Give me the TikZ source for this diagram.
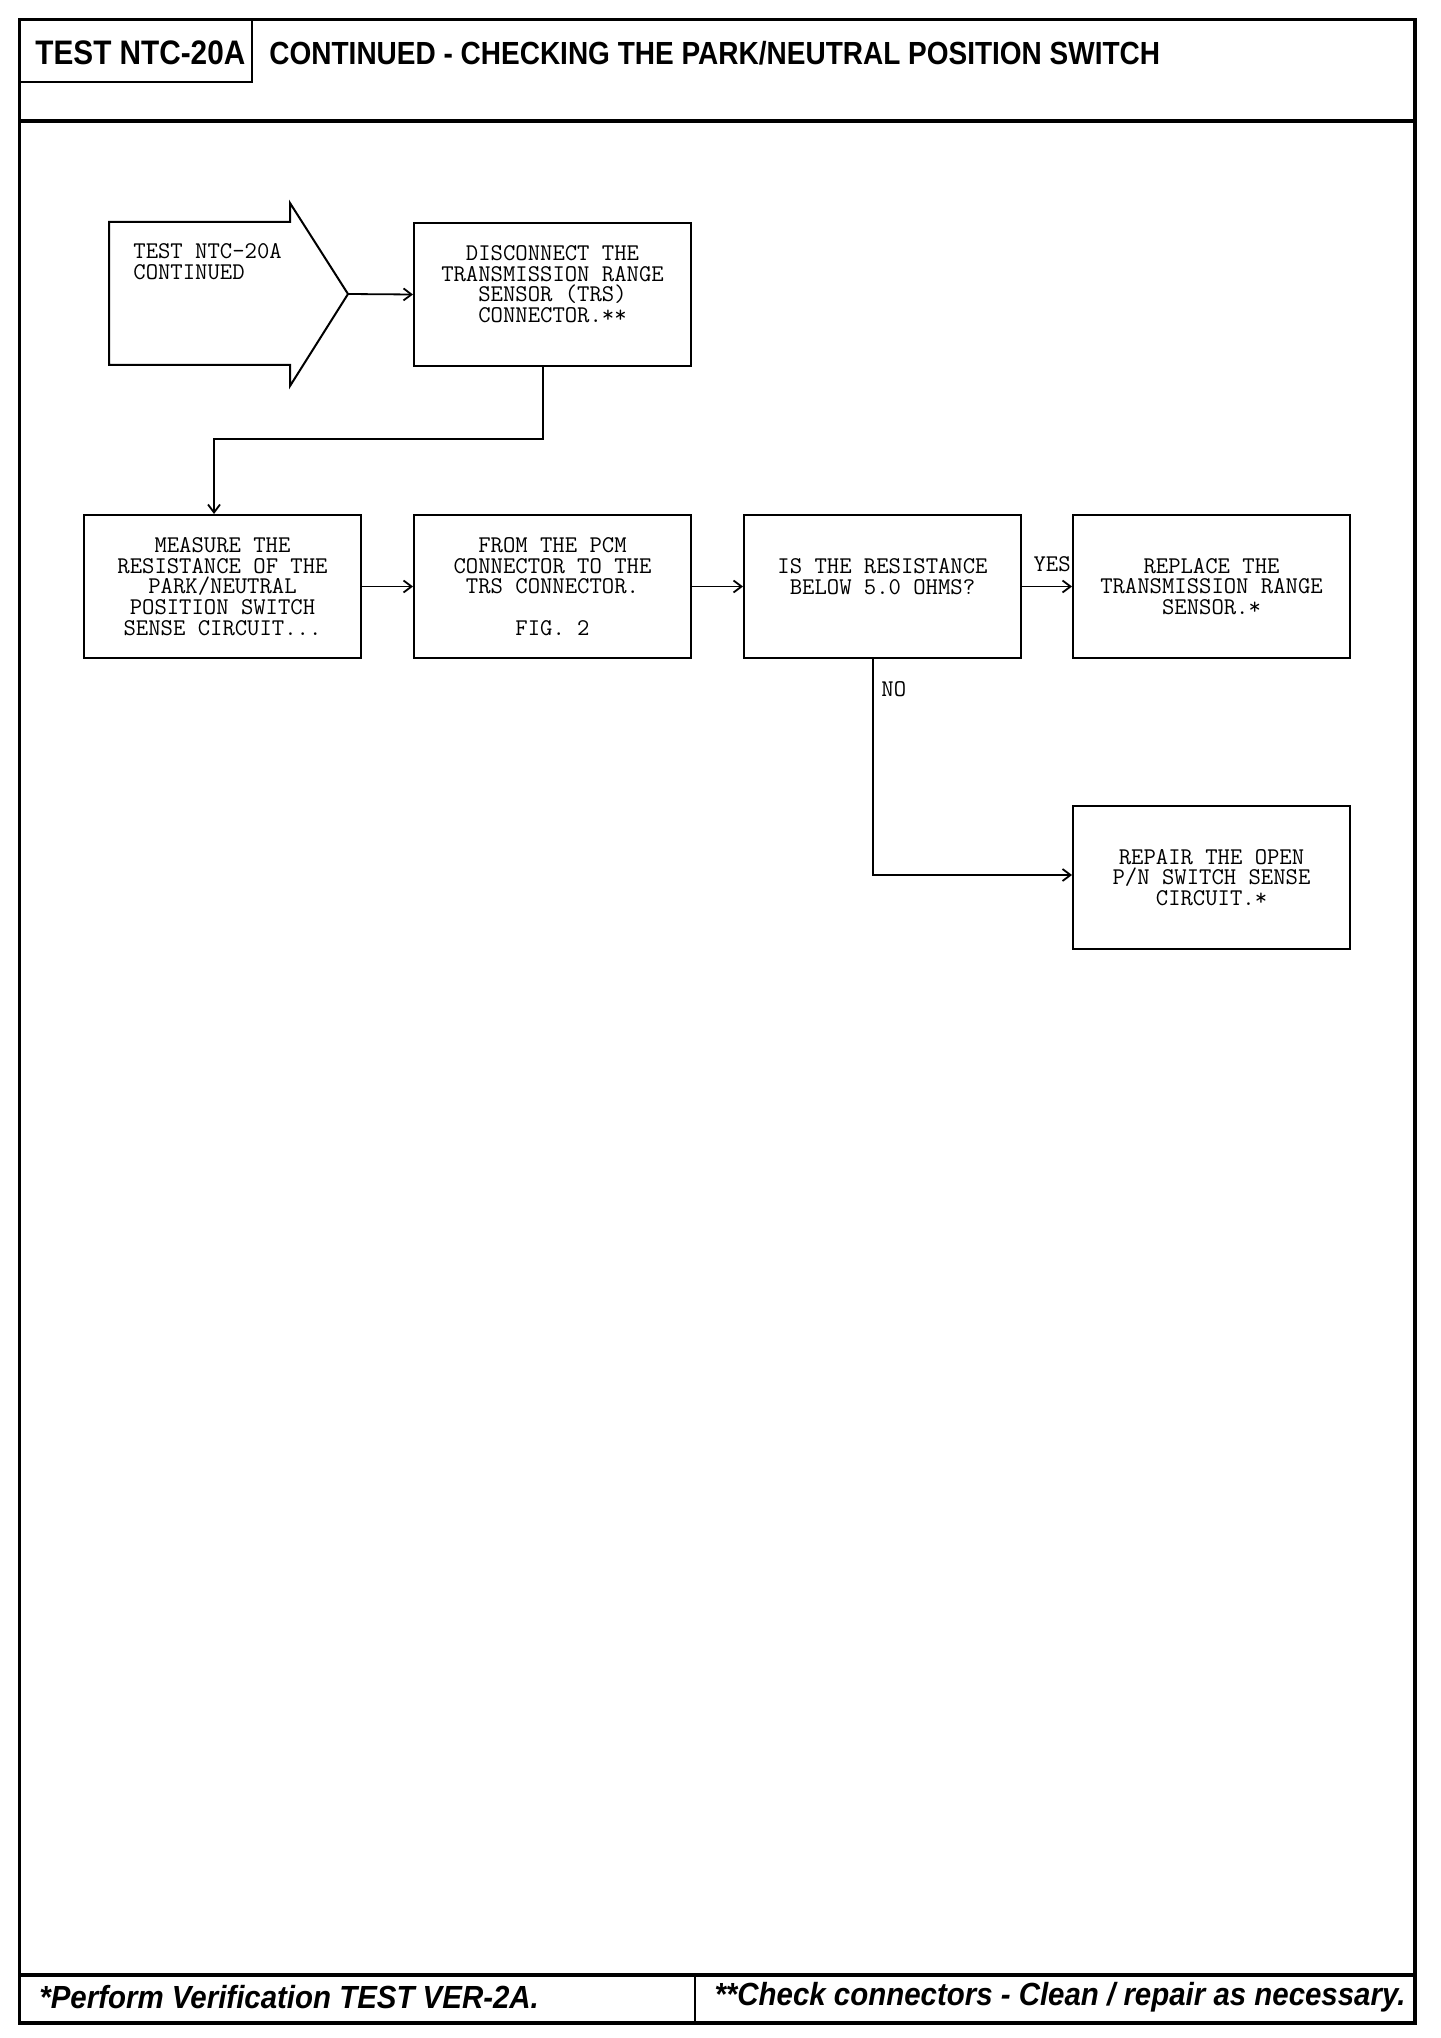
\documentclass[tikz,border=0pt]{standalone}
\usepackage{fontspec}
\setmainfont{Liberation Sans}
\newfontfamily\headfont[FakeStretch=0.875]{Liberation Sans}
\newfontfamily\footfont[FakeStretch=0.92]{Liberation Sans}
\usetikzlibrary{positioning,arrows.meta}
\tikzset{
  stepbox/.style={draw,line width=1pt,minimum width=138.5pt,minimum height=71.5pt,inner sep=0pt,align=center,font=\ttfamily\fontsize{12}{10.4}\selectfont},
  boxtext/.style={inner sep=0pt,font=\ttfamily\fontsize{12}{10.4}\selectfont},
  headtext/.style={inner sep=0pt,font=\headfont\bfseries\fontsize{16}{16}\selectfont},
  foottext/.style={inner sep=0pt,font=\footfont\bfseries\itshape\fontsize{16}{16}\selectfont},
  link/.style={-{Straight Barb[length=4pt,width=6pt]},line width=0.9pt},
}
\begin{document}
\begin{tikzpicture}[x=0.5pt,y=-0.5pt]
\useasboundingbox (0,0) rectangle (1440,2038);
\draw[line width=1.6pt] (19.5,19.5) rectangle (1415,2023);
\draw[line width=1.6pt] (19.5,121)--(1415,121); \draw[line width=1.6pt] (19.5,1975)--(1415,1975);
\draw[line width=1.2pt] (252,19.5)--(252,82)--(19.5,82); \draw[line width=1.2pt] (695,1975)--(695,2023);
\node[headtext,anchor=west,font=\headfont\bfseries\fontsize{17}{17}\selectfont] (tag) at (35,53) {TEST NTC-20A};
\node[headtext,anchor=west] (title) at (269,53) {CONTINUED - CHECKING THE PARK/NEUTRAL POSITION SWITCH};
\node[foottext,anchor=west] (verify) at (39,1997) {*Perform Verification TEST VER-2A.};
\node[foottext,anchor=east] (clean) at (1406,1997) {**Check connectors - Clean / repair as necessary.};
\draw[line width=1pt] (109,222)--(290,222)--(290,203)--(348,294)--(290,386)--(290,365)--(109,365)--cycle;
\coordinate (tip) at (348,294);
\node[boxtext,anchor=north west,align=left] (entry) at (133,243) {TEST NTC-20A\\CONTINUED};
\node[stepbox,anchor=north west] (discon) at (413,222) {DISCONNECT THE\\TRANSMISSION RANGE\\SENSOR (TRS)\\CONNECTOR.**\\ \mbox{}};
\node[stepbox,anchor=north west] (measure) at (83,514) {MEASURE THE\\RESISTANCE OF THE\\PARK/NEUTRAL\\POSITION SWITCH\\SENSE CIRCUIT...};
\node[stepbox,anchor=north west] (frompcm) at (413,514) {FROM THE PCM\\CONNECTOR TO THE\\TRS CONNECTOR.\\ \mbox{}\\FIG. 2};
\node[stepbox,anchor=north west] (check) at (743,514) {IS THE RESISTANCE\\BELOW 5.0 OHMS?\\ \mbox{}};
\node[stepbox,anchor=north west] (replace) at (1072,514) {REPLACE THE\\TRANSMISSION RANGE\\SENSOR.*};
\node[stepbox,anchor=north west] (repair) at (1072,805) {REPAIR THE OPEN\\P/N SWITCH SENSE\\CIRCUIT.*};
\node[boxtext,anchor=east] (yes) at (1071,564) {YES};
\node[boxtext,anchor=west] (no) at (881,689) {NO};
\coordinate (bend1) at (543,439); \coordinate (bend2) at (214,439); \coordinate (nobend) at (873,875);
\draw[link] (tip)--(discon.west);
\draw[link] (discon.south -| bend1)--(bend1)--(bend2)--(bend2 |- measure.north);
\draw[link] (measure)--(frompcm); \draw[link] (frompcm)--(check); \draw[link] (check)--(replace);
\draw[link] (check.south -| nobend)--(nobend)--(nobend -| repair.west);
\end{tikzpicture}
\end{document}
